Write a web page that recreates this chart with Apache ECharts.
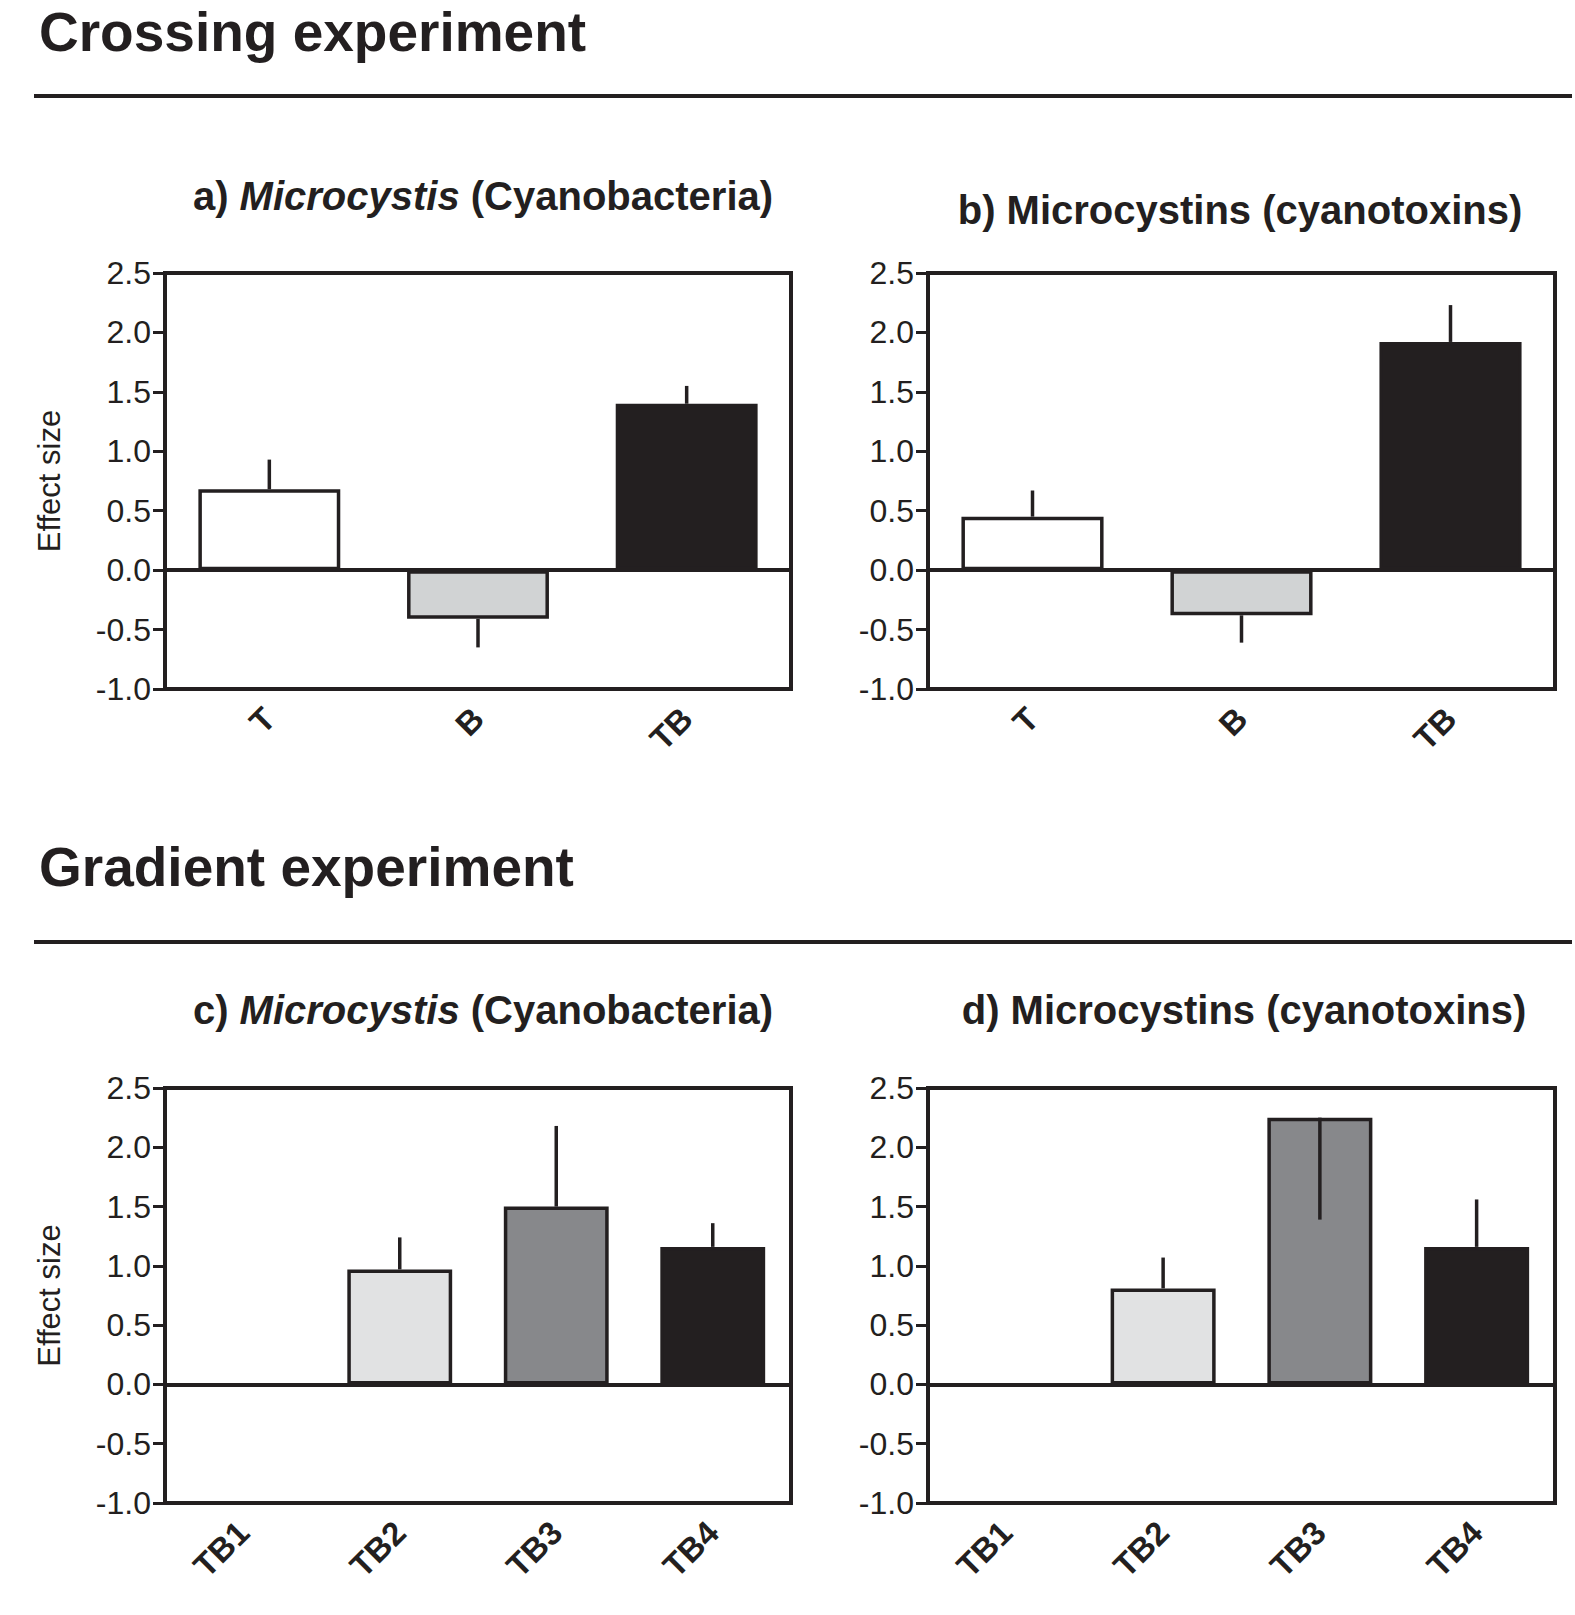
<!DOCTYPE html>
<html>
<head>
<meta charset="utf-8">
<script src="https://cdn.jsdelivr.net/npm/echarts@6/dist/echarts.min.js"></script>
<style>
    html, body { margin: 0; padding: 0; background: #fff; }
    #main { width: 1575px; height: 1615px; }
</style>
</head>
<body>
<div id="main"></div>
<script>
    // categories
    var crossCats = ['T', 'B', 'TB'];
    var gradCats = ['TB1', 'TB2', 'TB3', 'TB4'];

    // effect sizes (bar heights) and end of the error line
    var microCross = [0.68, -0.41, 1.40];
    var microCrossErr = [0.93, -0.65, 1.55];
    var toxinCross = [0.45, -0.38, 1.92];
    var toxinCrossErr = [0.67, -0.61, 2.23];
    var microGrad = [null, 0.97, 1.50, 1.16];
    var microGradErr = [null, 1.24, 2.18, 1.36];
    var toxinGrad = [null, 0.81, 2.25, 1.16];
    var toxinGradErr = [null, 1.07, 1.39, 1.56];

    var yTicks = [-1.0, -0.5, 0.0, 0.5, 1.0, 1.5, 2.0, 2.5];

    var crossColors = ['#ffffff', '#d1d3d4', '#231f20'];
    var gradColors = ['#ffffff', '#e1e2e3', '#87888b', '#231f20'];

    var ink = '#231f20';
    var font = 'Liberation Sans, Arial, Helvetica, sans-serif';

    var chart = echarts.init(document.getElementById('main'), null, {renderer: 'svg'});

    var grids = [
        {left: 165, top: 273, width: 626, height: 416},
        {left: 928, top: 273, width: 627, height: 416},
        {left: 165, top: 1088, width: 626, height: 415},
        {left: 928, top: 1088, width: 627, height: 415}
    ];
    grids.forEach(function (g) {
        g.show = true;
        g.borderColor = ink;
        g.borderWidth = 4;
        g.backgroundColor = 'transparent';
        g.containLabel = false;
        g.outerBoundsMode = 'none';
    });

    var panels = [
        {cats: crossCats, vals: microCross, errs: microCrossErr, colors: crossColors, label: true, bw: '68%'},
        {cats: crossCats, vals: toxinCross, errs: toxinCrossErr, colors: crossColors, label: false, bw: '68%'},
        {cats: gradCats, vals: microGrad, errs: microGradErr, colors: gradColors, label: true, bw: '67%'},
        {cats: gradCats, vals: toxinGrad, errs: toxinGradErr, colors: gradColors, label: false, bw: '67%'}
    ];

    var xAxes = [], yAxes = [], series = [];

    panels.forEach(function (p, i) {
        xAxes.push({
            type: 'category',
            gridIndex: i,
            data: p.cats,
            position: 'bottom',
            axisLine: {onZero: false, lineStyle: {color: ink, width: 4}},
            axisTick: {alignWithLabel: true, length: 13, lineStyle: {color: ink, width: 4}},
            axisLabel: {
                rotate: 45, margin: 24, color: ink,
                fontSize: 33, fontWeight: 'bold', fontFamily: font
            },
            splitLine: {show: false}
        });
        yAxes.push({
            type: 'value',
            gridIndex: i,
            min: yTicks[0],
            max: yTicks[yTicks.length - 1],
            interval: 0.5,
            name: p.label ? 'Effect size' : '',
            nameLocation: 'middle',
            nameGap: 100,
            nameTextStyle: {color: ink, fontSize: 31, fontFamily: font},
            axisLine: {show: true, lineStyle: {color: ink, width: 4}},
            axisTick: {show: true, length: 12, lineStyle: {color: ink, width: 3}},
            axisLabel: {
                margin: 14, color: ink, fontSize: 32, fontFamily: font,
                formatter: function (v) { return v.toFixed(1); }
            },
            splitLine: {show: false}
        });

        var barData = [];
        var errData = [];
        for (var j = 0; j < p.cats.length; j++) {
            if (p.vals[j] === null) {
                barData.push('-');
            } else {
                barData.push({value: p.vals[j], itemStyle: {color: p.colors[j]}});
                errData.push([j, p.vals[j], p.errs[j]]);
            }
        }

        series.push({
            type: 'bar',
            xAxisIndex: i,
            yAxisIndex: i,
            data: barData,
            barWidth: p.bw,
            itemStyle: {borderColor: ink, borderWidth: 3.5},
            markLine: {
                silent: true,
                symbol: 'none',
                label: {show: false},
                lineStyle: {color: ink, width: 4, type: 'solid'},
                data: [{yAxis: 0}]
            },
            z: 2
        });

        series.push({
            type: 'custom',
            xAxisIndex: i,
            yAxisIndex: i,
            data: errData,
            z: 5,
            renderItem: function (params, api) {
                var x = api.value(0);
                var a = api.coord([x, api.value(1)]);
                var b = api.coord([x, api.value(2)]);
                return {
                    type: 'line',
                    shape: {x1: a[0], y1: a[1], x2: b[0], y2: b[1]},
                    style: {stroke: ink, lineWidth: 3.5}
                };
            }
        });
    });

    var richTitle = {
        b: {fontSize: 40, fontWeight: 'bold', fontFamily: font, fill: ink, color: ink},
        i: {fontSize: 40, fontWeight: 'bold', fontStyle: 'italic', fontFamily: font, fill: ink, color: ink}
    };

    function heading(txt, y) {
        return {
            type: 'text', x: 39, y: y, z: 10,
            style: {text: txt, fill: ink, font: 'bold 55px ' + font, align: 'left', verticalAlign: 'middle'}
        };
    }

    function panelTitle(txt, x, y) {
        return {
            type: 'text', x: x, y: y, z: 10,
            style: {text: txt, rich: richTitle, fill: ink, font: 'bold 40px ' + font, align: 'center', verticalAlign: 'middle'}
        };
    }

    function rule(y) {
        return {
            type: 'line', z: 10,
            shape: {x1: 34, y1: y, x2: 1572, y2: y},
            style: {stroke: ink, lineWidth: 4}
        };
    }

    var option = {
        backgroundColor: '#ffffff',
        animation: false,
        grid: grids,
        xAxis: xAxes,
        yAxis: yAxes,
        series: series,
        graphic: [
            heading('Crossing experiment', 32),
            rule(96),
            panelTitle('{b|a) }{i|Microcystis}{b| (Cyanobacteria)}', 483, 196),
            panelTitle('{b|b) Microcystins (cyanotoxins)}', 1240, 210),
            heading('Gradient experiment', 867),
            rule(942),
            panelTitle('{b|c) }{i|Microcystis}{b| (Cyanobacteria)}', 483, 1010),
            panelTitle('{b|d) Microcystins (cyanotoxins)}', 1244, 1010)
        ]
    };

    chart.setOption(option);
</script>
</body>
</html>
